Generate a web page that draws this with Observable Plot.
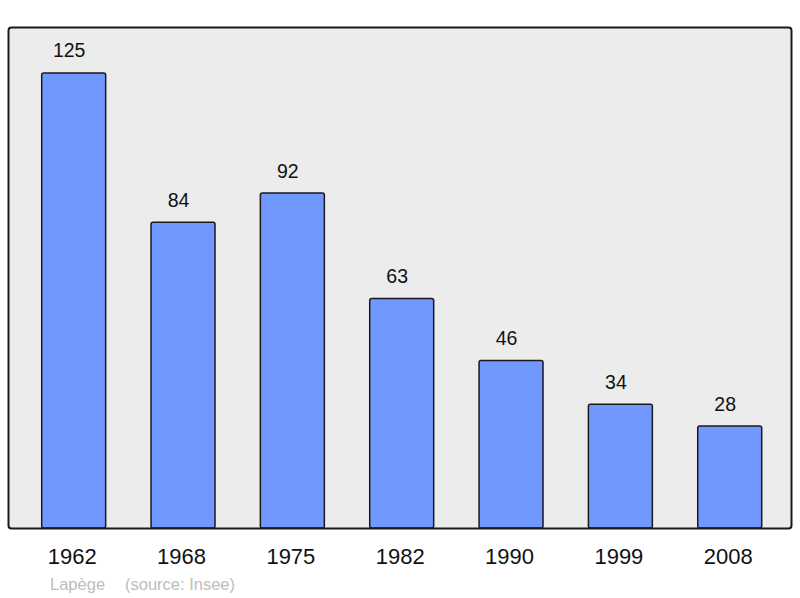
<!DOCTYPE html>
<html>
<head>
<meta charset="utf-8">
<script src="https://cdn.jsdelivr.net/npm/d3@7"></script>
<script src="https://cdn.jsdelivr.net/npm/@observablehq/plot@0.6"></script>
<style>
  html, body { margin: 0; padding: 0; background: #fff; }
  #wrap { position: relative; width: 800px; height: 598px; font-family: "Liberation Sans", Arial, sans-serif; }
  #caption { position: absolute; left: 50px; top: 575px; font-size: 16.5px; color: #bdbdbd; white-space: pre; }
  #caption span.src { position: absolute; left: 75px; top: 0; }
</style>
</head>
<body>
<div id="wrap"><div id="chart"></div><div id="caption"><span>Lapège</span><span class="src">(source: Insee)</span></div></div>
<script>
const years = ["1962", "1968", "1975", "1982", "1990", "1999", "2008"];
const population = [125, 84, 92, 63, 46, 34, 28];

const data = years.map((y, i) => ({year: y, value: population[i]}));

const chart = Plot.plot({
  width: 800,
  height: 598,
  marginTop: 27,
  marginBottom: 70,
  marginLeft: 8,
  marginRight: 9,
  style: {fontFamily: "'Liberation Sans', Arial, sans-serif", background: "transparent", color: "#000"},
  x: {domain: years, range: [41.7, 761.7], paddingInner: 0.415, paddingOuter: 0, round: false, label: null},
  y: {domain: [0, 137.6], axis: null},
  marks: [
    Plot.frame({fill: "#ececec", stroke: "none", rx: 3}),
    Plot.barY(data, {x: "year", y: "value", fill: "#7098ff", stroke: "#1a1a1a", strokeWidth: 1.5, rx: 2}),
    Plot.text(data, {x: "year", y: "value", text: d => String(d.value), dx: -5, dy: -16, lineAnchor: "bottom", fontSize: 19.5, fill: "#111"}),
    Plot.frame({stroke: "#1a1a1a", strokeWidth: 2, rx: 3}),
    Plot.axisX({tickSize: 0, tickPadding: 20, fontSize: 22, dx: -2, label: null, fill: "#111"})
  ]
});
document.getElementById("chart").appendChild(chart);
</script>
</body>
</html>
